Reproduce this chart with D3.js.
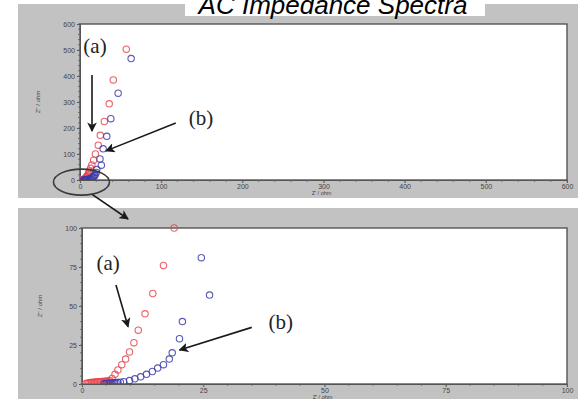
<!DOCTYPE html>
<html>
<head>
<meta charset="utf-8">
<script src="https://cdn.jsdelivr.net/npm/d3@7/dist/d3.min.js"></script>
<style>
  html, body { margin: 0; padding: 0; background: #fff; }
  svg { display: block; }
</style>
</head>
<body>
<svg id="chart" width="578" height="399"></svg>
<script>
// Nyquist data (Z' / ohm, Z'' / ohm) for the two samples
const seriesA_re = [57, 41, 36, 30, 25, 22.5, 19, 16.8, 14.6, 13, 11.6, 10.7, 9.8, 9.0, 8.2, 7.4, 6.8, 6.2, 5.7, 5.3, 5.0, 4.7, 4.4, 4.1, 3.8, 3.5, 3.2, 2.9, 2.6, 2.3, 2.0, 1.7, 1.4, 1.1, 0.8];
const seriesA_im = [503, 385, 293, 225, 172, 134, 100, 76, 58, 45, 34.5, 26.5, 20.5, 16, 12.4, 9, 6.2, 3.6, 2.2, 1.9, 1.8, 1.7, 1.6, 1.6, 1.5, 1.5, 1.4, 1.3, 1.2, 1.1, 1.0, 0.9, 0.7, 0.5, 0.3];
const seriesB_re = [63, 47, 38, 33, 28.5, 24.6, 26.3, 20.7, 20.1, 18.6, 18, 16.8, 15.6, 14.5, 13.3, 12.1, 10.9, 9.8, 8.6, 7.9, 7.4, 7.0, 6.6, 6.2, 5.8, 5.4, 5.0, 4.6];
const seriesB_im = [467, 334, 236, 168, 120, 81, 57, 40, 29, 20, 16, 12.4, 10.2, 8, 6.2, 4.6, 3.3, 2.2, 1.5, 1.2, 1.0, 0.9, 0.8, 0.7, 0.6, 0.5, 0.4, 0.3];

const topTicksX = [0, 100, 200, 300, 400, 500, 600];
const topTicksY = [0, 100, 200, 300, 400, 500, 600];
const zoomTicksX = [0, 25, 50, 75, 100];
const zoomTicksY = [0, 25, 50, 75, 100];

const titleText = "AC Impedance Spectra";
const xTitle = "Z' / ohm";
const yTitle = "Z'' / ohm";

const colorA = "#e8474f";
const colorB = "#3c3ca8";

const svg = d3.select("#chart");

function toPoints(re, im) { return re.map((r, i) => ({ re: r, im: im[i] })); }
const dataA = toPoints(seriesA_re, seriesA_im);
const dataB = toPoints(seriesB_re, seriesB_im);

// arrow head marker
const defs = svg.append("defs");
defs.append("marker")
  .attr("id", "head")
  .attr("viewBox", "0 0 10 10")
  .attr("refX", 9).attr("refY", 5)
  .attr("markerWidth", 6).attr("markerHeight", 6)
  .attr("markerUnits", "strokeWidth")
  .attr("orient", "auto")
  .append("path").attr("d", "M0,0 L10,5 L0,10 L2.5,5 Z").attr("fill", "#1a1a1a");

function panel(cfg) {
  const g = svg.append("g");
  // gray figure background
  g.append("rect").attr("x", cfg.bg[0]).attr("y", cfg.bg[1])
    .attr("width", cfg.bg[2]).attr("height", cfg.bg[3]).attr("fill", "#c2c2c2");

  const x = d3.scaleLinear().domain(cfg.xDom).range([cfg.left, cfg.right]);
  const y = d3.scaleLinear().domain(cfg.yDom).range([cfg.bottom, cfg.top]);

  g.append("rect").attr("x", cfg.left).attr("y", cfg.top)
    .attr("width", cfg.right - cfg.left).attr("height", cfg.bottom - cfg.top)
    .attr("fill", "#fff");

  const clipId = "clip" + cfg.id;
  defs.append("clipPath").attr("id", clipId).append("rect")
    .attr("x", cfg.left).attr("y", cfg.top - 4)
    .attr("width", cfg.right - cfg.left).attr("height", cfg.bottom - cfg.top + 4);

  // axes
  const xAxis = d3.axisBottom(x).tickValues(cfg.xTicks).tickSize(3).tickPadding(1);
  const yAxis = d3.axisLeft(y).tickValues(cfg.yTicks).tickSize(3).tickPadding(2);
  const gx = g.append("g").attr("transform", `translate(0,${cfg.bottom})`).call(xAxis);
  const gy = g.append("g").attr("transform", `translate(${cfg.left},0)`).call(yAxis);
  [gx, gy].forEach(a => {
    a.select(".domain").attr("stroke", "#555");
    a.selectAll(".tick line").attr("stroke", "#555");
    a.selectAll(".tick text").attr("fill", "#444")
      .style("font-family", "'Liberation Sans', Arial, sans-serif").style("font-size", "7px");
  });

  // minor ticks
  const minorX = d3.range(cfg.xDom[0], cfg.xDom[1] + 1e-9, cfg.xMinor);
  const minorY = d3.range(cfg.yDom[0], cfg.yDom[1] + 1e-9, cfg.yMinor);
  g.append("g").selectAll("line").data(minorX).join("line")
    .attr("x1", d => x(d)).attr("x2", d => x(d))
    .attr("y1", cfg.bottom).attr("y2", cfg.bottom + 2).attr("stroke", "#777");
  g.append("g").selectAll("line").data(minorY).join("line")
    .attr("y1", d => y(d)).attr("y2", d => y(d))
    .attr("x1", cfg.left - 2).attr("x2", cfg.left).attr("stroke", "#777");

  // frame
  g.append("rect").attr("x", cfg.left).attr("y", cfg.top)
    .attr("width", cfg.right - cfg.left).attr("height", cfg.bottom - cfg.top)
    .attr("fill", "none").attr("stroke", "#555").attr("stroke-width", 1.4);

  // axis titles
  g.append("text").attr("x", (cfg.left + cfg.right) / 2 - 2).attr("y", cfg.bottom + cfg.xTitleGap)
    .attr("text-anchor", "middle").attr("fill", "#444")
    .style("font-family", "'Liberation Sans', Arial, sans-serif").style("font-size", "5.5px")
    .text(xTitle);
  g.append("text")
    .attr("transform", `translate(${cfg.left - 40},${(cfg.top + cfg.bottom) / 2}) rotate(-90)`)
    .attr("text-anchor", "middle").attr("fill", "#444")
    .style("font-family", "'Liberation Sans', Arial, sans-serif").style("font-size", "6px")
    .text(yTitle);

  // data
  const plot = g.append("g").attr("clip-path", `url(#${clipId})`);
  plot.selectAll("circle.a").data(dataA).join("circle").attr("class", "a")
    .attr("cx", d => x(d.re)).attr("cy", d => y(d.im)).attr("r", cfg.r)
    .attr("fill", "none").attr("stroke", colorA).attr("stroke-width", 1.1).attr("stroke-opacity", 0.85);
  plot.selectAll("circle.b").data(dataB).join("circle").attr("class", "b")
    .attr("cx", d => x(d.re)).attr("cy", d => y(d.im)).attr("r", cfg.r)
    .attr("fill", "none").attr("stroke", colorB).attr("stroke-width", 1.1).attr("stroke-opacity", 0.85);

  // labelled arrows
  cfg.notes.forEach(n => {
    g.append("text").attr("x", x(n.label[0])).attr("y", y(n.label[1]))
      .attr("text-anchor", "middle").attr("dominant-baseline", "central")
      .attr("fill", "#222")
      .style("font-family", "'Liberation Serif', 'Times New Roman', serif").style("font-size", "21px")
      .text(n.text);
    g.append("line")
      .attr("x1", x(n.from[0])).attr("y1", y(n.from[1]))
      .attr("x2", x(n.to[0])).attr("y2", y(n.to[1]))
      .attr("stroke", "#1a1a1a").attr("stroke-width", 1.6)
      .attr("marker-end", "url(#head)");
  });
  return { x, y };
}

// page background, showing as the strip between the two panels
svg.append("rect").attr("x", 0).attr("y", 0).attr("width", 578).attr("height", 399).attr("fill", "#fff");

const topP = panel({
  id: "top", bg: [18, 4, 560, 194],
  left: 80, right: 567, top: 24, bottom: 180,
  xDom: [0, 600], yDom: [0, 600], xTicks: topTicksX, yTicks: topTicksY,
  xMinor: 20, yMinor: 20, r: 3.2, xTitleGap: 15,
  notes: [
    { text: "(a)", label: [18.5, 515], from: [14.8, 404], to: [14.8, 188] },
    { text: "(b)", label: [149, 238], from: [118, 219], to: [32, 112] }
  ]
});

const zoomP = panel({
  id: "zoom", bg: [18, 208, 560, 191],
  left: 82, right: 567, top: 228, bottom: 384,
  xDom: [0, 100], yDom: [0, 100], xTicks: zoomTicksX, yTicks: zoomTicksY,
  xMinor: 5, yMinor: 5, r: 3.2, xTitleGap: 14.5,
  notes: [
    { text: "(a)", label: [5.4, 77.4], from: [7.0, 63.5], to: [9.5, 36.7] },
    { text: "(b)", label: [41, 40], from: [35, 36.3], to: [20.1, 21.8] }
  ]
});

// ellipse marking the region enlarged below
const ex = topP.x(1.8), ey = topP.y(-8);
svg.append("ellipse").attr("cx", ex).attr("cy", ey).attr("rx", 28).attr("ry", 13)
  .attr("fill", "none").attr("stroke", "#3a3a3a").attr("stroke-width", 1.6);
svg.append("line").attr("x1", ex + 11).attr("y1", ey + 12.5)
  .attr("x2", zoomP.x(9.5)).attr("y2", 219)
  .attr("stroke", "#1a1a1a").attr("stroke-width", 1.6).attr("marker-end", "url(#head)");

// title
svg.append("rect").attr("x", 185).attr("y", 0).attr("width", 300).attr("height", 16).attr("fill", "#fff");
svg.append("text").attr("x", 333).attr("y", 14).attr("text-anchor", "middle")
  .attr("fill", "#000")
  .style("font-family", "'Liberation Sans', Arial, sans-serif").style("font-style", "italic")
  .style("font-size", "26px")
  .text(titleText);
</script>
</body>
</html>
